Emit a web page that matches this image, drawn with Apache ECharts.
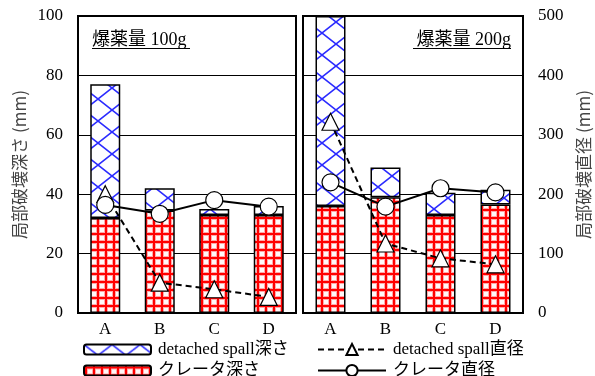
<!DOCTYPE html>
<html>
<head>
<meta charset="utf-8">
<script src="https://cdn.jsdelivr.net/npm/echarts@6/dist/echarts.min.js"></script>
<style>
html,body{margin:0;padding:0;background:#fff;}
#main{width:595px;height:376px;}
</style>
</head>
<body>
<div id="main"></div>
<script>
// ---- data ----
var categories = ['A', 'B', 'C', 'D'];
// 100g panel
var craterDepth100 = [32, 34.5, 33, 33];
var spallDepth100 = [45, 7.5, 2, 3];
var spallDiam100 = [200, 51, 40, 27];
var craterDiam100 = [182, 167, 190, 179];
// 200g panel
var craterDepth200 = [36, 39, 33, 36.5];
var spallDepth200 = [64, 10, 7.5, 5];
var spallDiam200 = [322, 117, 92, 82];
var craterDiam200 = [220, 179, 210, 203];
var depthTicks = [0, 20, 40, 60, 80, 100];
var diamTicks = [0, 100, 200, 300, 400, 500];
var panelTitles = ['爆薬量 100g', '爆薬量 200g'];
var names = {
  spallDepth: 'detached spall深さ',
  craterDepth: 'クレータ深さ',
  spallDiam: 'detached spall直径',
  craterDiam: 'クレータ直径'
};
var axisNames = ['局部破壊深さ (mm)', '局部破壊直径 (mm)'];

// ---- patterns ----
function bluePattern() {
  var c = document.createElement('canvas');
  c.width = 28; c.height = 22;
  var g = c.getContext('2d');
  g.fillStyle = '#ffffff'; g.fillRect(0, 0, 28, 22);
  g.strokeStyle = '#2b2bff'; g.lineWidth = 1.6;
  g.beginPath();
  g.moveTo(0, 0); g.lineTo(28, 22);
  g.moveTo(28, 0); g.lineTo(0, 22);
  g.stroke();
  return c;
}
function redPattern() {
  var c = document.createElement('canvas');
  c.width = 8; c.height = 8;
  var g = c.getContext('2d');
  g.fillStyle = '#ffecec'; g.fillRect(0, 0, 8, 8);
  g.fillStyle = '#ffa8a8';
  g.fillRect(0, 0, 4, 8); g.fillRect(0, 0, 8, 4);
  g.fillStyle = '#fff8f8';
  g.fillRect(4, 4, 4, 4);
  g.fillStyle = '#ff0000';
  g.fillRect(1, 0, 2, 8); g.fillRect(0, 1, 8, 2);
  return c;
}
var blueFill = { image: bluePattern(), repeat: 'repeat' };
var redFill = { image: redPattern(), repeat: 'repeat' };

var serif = '"Liberation Serif", "Times New Roman", "Noto Sans CJK JP", serif';
var chart = echarts.init(document.getElementById('main'), null, { renderer: 'canvas' });

function barSeries(name, data, fill, gi) {
  return {
    type: 'bar', name: name, data: data, stack: 's' + gi,
    xAxisIndex: gi, yAxisIndex: gi * 2,
    barWidth: 30,
    itemStyle: { color: fill, borderColor: '#000', borderWidth: 1.5 },
    emphasis: { disabled: true }, z: 2
  };
}
function lineSeries(name, data, dashed, symbol, gi, z) {
  return {
    type: 'line', name: name, data: data,
    xAxisIndex: gi, yAxisIndex: gi * 2 + 1,
    symbol: symbol, symbolSize: 17,
    lineStyle: { color: '#000', width: 2, type: dashed ? [6, 4] : 'solid' },
    itemStyle: { color: '#fff', borderColor: '#000', borderWidth: 1.2 },
    emphasis: { disabled: true }, z: z
  };
}

function xAx(gi) {
  return {
    type: 'category', gridIndex: gi, data: categories,
    axisTick: { show: false },
    axisLine: { lineStyle: { color: '#000', width: 2 } },
    axisLabel: { color: '#000', fontFamily: serif, fontSize: 17, margin: 8 }
  };
}
function yDepth(gi, showLabel) {
  return {
    type: 'value', gridIndex: gi, position: 'left', min: 0, max: 100, interval: 20,
    axisLine: { show: true, lineStyle: { color: '#000', width: 2 } },
    axisTick: { show: false },
    axisLabel: { show: showLabel, color: '#000', fontFamily: serif, fontSize: 17, margin: 15,
      customValues: depthTicks },
    splitLine: { show: true, lineStyle: { color: '#000', width: 1 } },
    name: showLabel ? axisNames[0] : '', nameLocation: 'middle', nameGap: 50, nameRotate: 90,
    nameTextStyle: { color: '#444', fontFamily: '"Noto Sans CJK JP", sans-serif', fontSize: 17 }
  };
}
function yDiam(gi, showLabel) {
  return {
    type: 'value', gridIndex: gi, position: 'right', min: 0, max: 500, interval: 100,
    axisLine: { show: true, lineStyle: { color: '#000', width: 2 } },
    axisTick: { show: false },
    axisLabel: { show: showLabel, color: '#000', fontFamily: serif, fontSize: 17, margin: 15,
      customValues: diamTicks },
    splitLine: { show: false },
    name: showLabel ? axisNames[1] : '', nameLocation: 'middle', nameGap: 52, nameRotate: 90,
    nameTextStyle: { color: '#444', fontFamily: '"Noto Sans CJK JP", sans-serif', fontSize: 17 }
  };
}

function legendRow(left, top, name, iw, ih) {
  return {
    left: left, top: top, orient: 'horizontal', itemWidth: iw, itemHeight: ih,
    data: [name], padding: 0, itemGap: 0,
    textStyle: { color: '#000', fontFamily: serif, fontSize: 17, padding: [0, 0, 0, 2] },
    selectedMode: false
  };
}

var option = {
  animation: false,
  backgroundColor: '#fff',
  grid: [
    { left: 78, top: 16, width: 218, height: 297, show: true, borderColor: '#000', borderWidth: 2, backgroundColor: 'transparent' },
    { left: 303, top: 16, width: 220, height: 297, show: true, borderColor: '#000', borderWidth: 2, backgroundColor: 'transparent' }
  ],
  xAxis: [xAx(0), xAx(1)],
  yAxis: [yDepth(0, true), yDiam(0, false), yDepth(1, false), yDiam(1, true)],
  legend: [
    legendRow(83, 341, names.spallDepth, 67, 10),
    legendRow(83, 362, names.craterDepth, 67, 10),
    legendRow(317, 341, names.spallDiam, 68, 14),
    legendRow(317, 362, names.craterDiam, 68, 14)
  ],
  graphic: [
    { type: 'text', left: 92, top: 31, style: { text: panelTitles[0], font: '18px ' + serif, fill: '#000' } },
    { type: 'line', shape: { x1: 92, y1: 48.5, x2: 190, y2: 48.5 }, style: { stroke: '#000', lineWidth: 1 } },
    { type: 'text', right: 84, top: 31, style: { text: panelTitles[1], font: '18px ' + serif, fill: '#000' } },
    { type: 'line', shape: { x1: 413, y1: 48.5, x2: 511, y2: 48.5 }, style: { stroke: '#000', lineWidth: 1 } }
  ],
  series: [
    barSeries(names.craterDepth, craterDepth100, redFill, 0),
    barSeries(names.spallDepth, spallDepth100, blueFill, 0),
    lineSeries(names.spallDiam, spallDiam100, true, 'triangle', 0, 3),
    lineSeries(names.craterDiam, craterDiam100, false, 'circle', 0, 4),
    barSeries(names.craterDepth, craterDepth200, redFill, 1),
    barSeries(names.spallDepth, spallDepth200, blueFill, 1),
    lineSeries(names.spallDiam, spallDiam200, true, 'triangle', 1, 3),
    lineSeries(names.craterDiam, craterDiam200, false, 'circle', 1, 4)
  ]
};
chart.setOption(option);
</script>
</body>
</html>
